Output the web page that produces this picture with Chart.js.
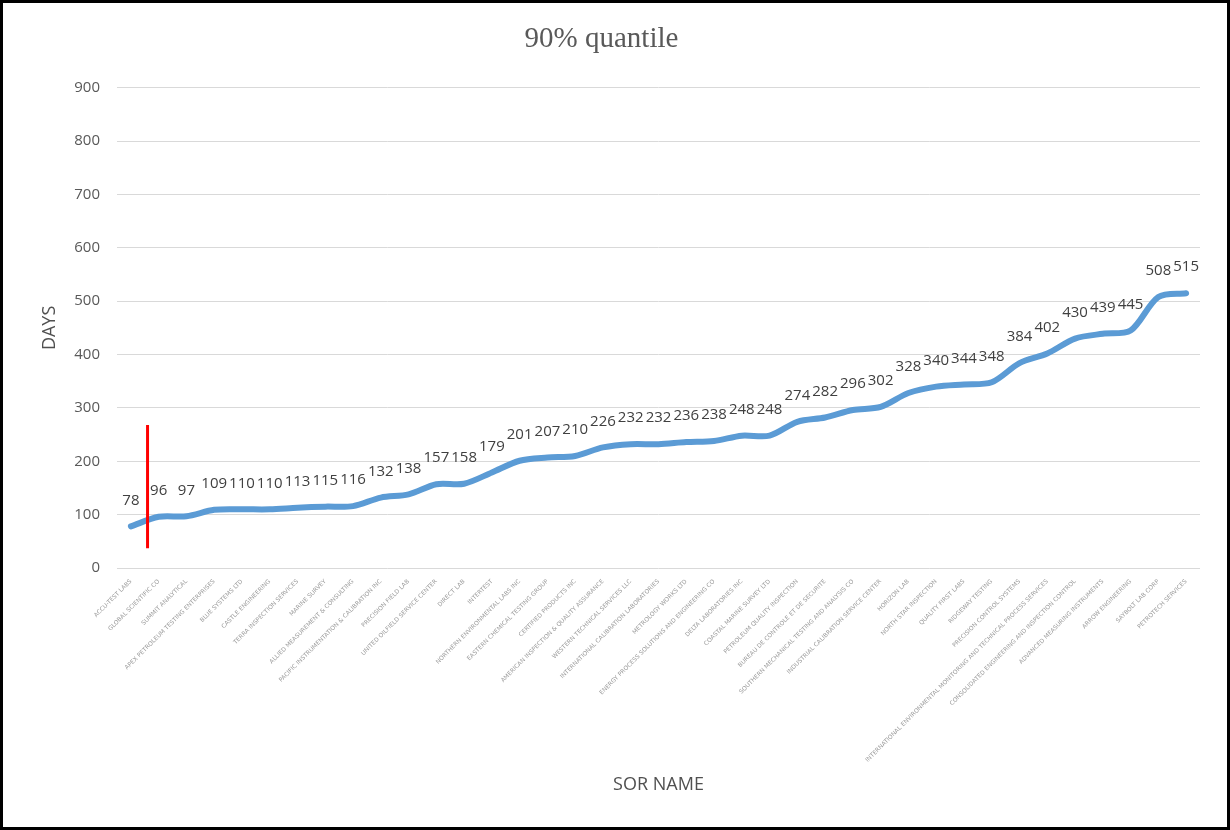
<!DOCTYPE html>
<html>
<head>
<meta charset="utf-8">
<script src="https://cdn.jsdelivr.net/npm/chart.js@4"></script>
<style>
  body { margin: 0; background: #fff; }
  #wrap { width: 1230px; height: 830px; box-sizing: border-box; border: 3px solid #000; background: #fff; }
</style>
</head>
<body>
<div id="wrap"><canvas id="quantileChart" width="1224" height="824"></canvas></div>
<script>
// Labels are tiny in the source, names are best guesses
const sorNames = [
    'ACCU-TEST LABS',
    'GLOBAL SCIENTIFIC CO',
    'SUMMIT ANALYTICAL',
    'APEX PETROLEUM TESTING ENTERPRISES',
    'BLUE SYSTEMS LTD',
    'CASTLE ENGINEERING',
    'TERRA INSPECTION SERVICES',
    'MARINE SURVEY',
    'ALLIED MEASUREMENT & CONSULTING',
    'PACIFIC INSTRUMENTATION & CALIBRATION INC',
    'PRECISION FIELD LAB',
    'UNITED OILFIELD SERVICE CENTER',
    'DIRECT LAB',
    'INTERTEST',
    'NORTHERN ENVIRONMENTAL LABS INC',
    'EASTERN CHEMICAL TESTING GROUP',
    'CERTIFIED PRODUCTS INC',
    'AMERICAN INSPECTION & QUALITY ASSURANCE',
    'WESTERN TECHNICAL SERVICES LLC',
    'INTERNATIONAL CALIBRATION LABORATORIES',
    'METROLOGY WORKS LTD',
    'ENERGY PROCESS SOLUTIONS AND ENGINEERING CO',
    'DELTA LABORATORIES INC',
    'COASTAL MARINE SURVEY LTD',
    'PETROLEUM QUALITY INSPECTION',
    'BUREAU DE CONTROLE ET DE SECURITE',
    'SOUTHERN MECHANICAL TESTING AND ANALYSIS CO',
    'INDUSTRIAL CALIBRATION SERVICE CENTER',
    'HORIZON LAB',
    'NORTH STAR INSPECTION',
    'QUALITY FIRST LABS',
    'RIDGEWAY TESTING',
    'PRECISION CONTROL SYSTEMS',
    'INTERNATIONAL ENVIRONMENTAL MONITORING AND TECHNICAL PROCESS SERVICES',
    'CONSOLIDATED ENGINEERING AND INSPECTION CONTROL',
    'ADVANCED MEASURING INSTRUMENTS',
    'ARROW ENGINEERING',
    'SAYBOLT LAB CORP',
    'PETROTECH SERVICES'
];
const quantileDays = [78, 96, 97, 109, 110, 110, 113, 115, 116, 132, 138, 157, 158, 179, 201, 207, 210,
    226, 232, 232, 236, 238, 248, 248, 274, 282, 296, 302, 328, 340, 344, 348, 384, 402, 430, 439, 445, 508, 515];
const yTicks = [0, 100, 200, 300, 400, 500, 600, 700, 800, 900];
// red marker drawn on top of the chart: category position and value range
const redMarker = { at: 0.6, from: 37, to: 268 };

// value labels above each point
const valueLabels = {
    id: 'valueLabels',
    afterDatasetsDraw(chart) {
        const ctx = chart.ctx;
        const meta = chart.getDatasetMeta(0);
        ctx.save();
        ctx.font = '15px "Open Sans", sans-serif';
        ctx.fillStyle = '#404040';
        ctx.textAlign = 'center';
        ctx.textBaseline = 'middle';
        meta.data.forEach((pt, i) => {
            ctx.fillText(String(quantileDays[i]), pt.x, pt.y - 26);
        });
        ctx.restore();
    }
};

const markerLine = {
    id: 'markerLine',
    afterDraw(chart) {
        const x = chart.scales.x;
        const y = chart.scales.y;
        const step = x.getPixelForValue(1) - x.getPixelForValue(0);
        const px = x.getPixelForValue(0) + redMarker.at * step;
        const ctx = chart.ctx;
        ctx.save();
        ctx.strokeStyle = '#ff0000';
        ctx.lineWidth = 3;
        ctx.beginPath();
        ctx.moveTo(px, y.getPixelForValue(redMarker.from));
        ctx.lineTo(px, y.getPixelForValue(redMarker.to));
        ctx.stroke();
        ctx.restore();
    }
};

const ctx = document.getElementById('quantileChart').getContext('2d');
new Chart(ctx, {
    type: 'line',
    data: {
        labels: sorNames,
        datasets: [{
            label: '90% quantile',
            data: quantileDays,
            borderColor: '#5b9bd5',
            borderWidth: 6,
            borderCapStyle: 'round',
            tension: 0.3,
            pointRadius: 0,
            fill: false
        }]
    },
    options: {
        responsive: false,
        animation: false,
        layout: { padding: { left: 0, right: 27, top: 0, bottom: 0 } },
        plugins: {
            legend: { display: false },
            tooltip: { enabled: false },
            title: {
                display: true,
                text: '90% quantile',
                color: '#595959',
                font: { family: '"Liberation Serif", "DejaVu Serif", serif', size: 29, weight: 'normal' },
                padding: { top: 19, bottom: 31 }
            }
        },
        scales: {
            x: {
                offset: true,
                grid: { display: false },
                border: { display: false },
                ticks: {
                    autoSkip: false,
                    minRotation: 45,
                    maxRotation: 45,
                    color: '#9a9a9a',
                    font: { family: '"DejaVu Sans", sans-serif', size: 6 },
                    padding: 2
                },
                title: {
                    display: true,
                    text: 'SOR NAME',
                    color: '#505050',
                    font: { family: '"Open Sans", sans-serif', size: 18 },
                    padding: { bottom: 31 }
                },
                afterFit(scale) { scale.height = 259; }
            },
            y: {
                min: 0,
                max: 900,
                afterBuildTicks(scale) { scale.ticks = yTicks.map(v => ({ value: v })); },
                grid: { color: '#d9d9d9', lineWidth: 1, drawTicks: false },
                border: { display: false },
                ticks: {
                    color: '#595959',
                    font: { family: '"Open Sans", sans-serif', size: 15 },
                    padding: 17
                },
                title: {
                    display: true,
                    text: 'DAYS',
                    color: '#505050',
                    font: { family: '"Open Sans", sans-serif', size: 18 },
                    padding: { top: 36 }
                },
                afterFit(scale) { scale.width = 114; }
            }
        }
    },
    plugins: [valueLabels, markerLine]
});
</script>
</body>
</html>
